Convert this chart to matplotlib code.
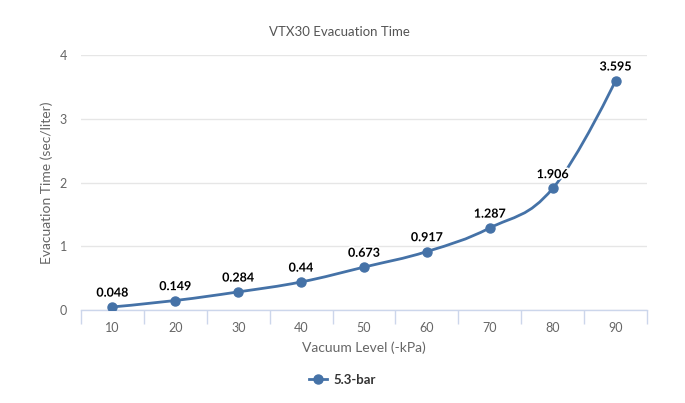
import matplotlib
matplotlib.use("Agg")
import matplotlib.pyplot as plt
from matplotlib.path import Path
from matplotlib.patches import PathPatch
import matplotlib.patheffects as pe
from matplotlib.lines import Line2D

categories = ["10", "20", "30", "40", "50", "60", "70", "80", "90"]
values = [0.048, 0.149, 0.284, 0.44, 0.673, 0.917, 1.287, 1.906, 3.595]
labels = ["0.048", "0.149", "0.284", "0.44", "0.673", "0.917", "1.287", "1.906", "3.595"]
series_name = "5.3-bar"
title = "VTX30 Evacuation Time"
xlabel = "Vacuum Level (-kPa)"
ylabel = "Evacuation Time (sec/liter)"
yticks = [0, 1, 2, 3, 4]

COLOR = "#4572A7"
FONT = "Lato"

fig = plt.figure(figsize=(6.85, 4.03), dpi=100)
ax = fig.add_axes([81/685, 93/403, (647-81)/685, (310-55)/403])

xs = list(range(len(values)))

# Highcharts-style spline control points
def spline_path(x, y):
    n = len(x)
    sm, den = 1.5, 2.5
    lc = [None]*n
    rc = [None]*n
    for i in range(n):
        if 0 < i < n-1:
            lx, ly = x[i-1], y[i-1]
            nx, ny = x[i+1], y[i+1]
            lcx = (sm*x[i] + lx)/den
            lcy = (sm*y[i] + ly)/den
            rcx = (sm*x[i] + nx)/den
            rcy = (sm*y[i] + ny)/den
            if rcx != lcx:
                corr = ((rcy - lcy)*(rcx - x[i]))/(rcx - lcx) + y[i] - rcy
                lcy += corr
                rcy += corr
            if lcy > ly and lcy > y[i]:
                lcy = max(ly, y[i]); rcy = 2*y[i] - lcy
            elif lcy < ly and lcy < y[i]:
                lcy = min(ly, y[i]); rcy = 2*y[i] - lcy
            if rcy > ny and rcy > y[i]:
                rcy = max(ny, y[i]); lcy = 2*y[i] - rcy
            elif rcy < ny and rcy < y[i]:
                rcy = min(ny, y[i]); lcy = 2*y[i] - rcy
            lc[i] = (lcx, lcy)
            rc[i] = (rcx, rcy)
        else:
            lc[i] = (x[i], y[i])
            rc[i] = (x[i], y[i])
    verts = [(x[0], y[0])]
    codes = [Path.MOVETO]
    for i in range(1, n):
        verts += [rc[i-1], lc[i], (x[i], y[i])]
        codes += [Path.CURVE4]*3
    return Path(verts, codes)

ax.add_patch(PathPatch(spline_path(xs, values), facecolor="none",
                       edgecolor=COLOR, lw=2, zorder=3))
ax.plot(xs, values, linestyle="none", marker="o", ms=6.5, color=COLOR,
        markeredgecolor=COLOR, zorder=4)

for xi, yi, lb in zip(xs, values, labels):
    ax.annotate(lb, (xi, yi), xytext=(0, 6), textcoords="offset points",
                ha="center", va="bottom", fontsize=9, fontweight="bold",
                color="black", family=FONT, zorder=5,
                path_effects=[pe.withStroke(linewidth=2.5, foreground="white")])

ax.set_xlim(-0.5, len(values) - 0.5)
ax.set_ylim(0, 4)
ax.set_yticks(yticks)
ax.set_yticklabels([str(t) for t in yticks])
ax.set_xticks(xs)
ax.set_xticklabels(categories)
ax.set_xticks([i - 0.5 for i in range(len(values) + 1)], minor=True)

ax.grid(axis="y", color="#e6e6e6", lw=1)
ax.set_axisbelow(True)
for s in ["top", "right", "left"]:
    ax.spines[s].set_visible(False)
ax.spines["bottom"].set_color("#ccd6eb")
ax.spines["bottom"].set_linewidth(1)

ax.tick_params(axis="x", which="major", length=0, pad=9, labelsize=9,
               labelcolor="#666666")
ax.tick_params(axis="x", which="minor", length=10, color="#ccd6eb", width=1)
ax.tick_params(axis="y", length=0, pad=10, labelsize=9, labelcolor="#666666")
for t in ax.get_xticklabels() + ax.get_yticklabels():
    t.set_family(FONT)

ax.set_xlabel(xlabel, fontsize=10, color="#666666", family=FONT, labelpad=5)
ax.set_ylabel(ylabel, fontsize=10, color="#666666", family=FONT, labelpad=5)

fig.text(339/685, 1 - 32/403, title, ha="center", va="center",
         fontsize=9.5, color="#555555", family=FONT)

handle = Line2D([], [], color=COLOR, lw=2, marker="o", ms=6.5)
fig.legend([handle], [series_name], loc="center", bbox_to_anchor=(0.5, 1 - 380/403),
           frameon=False, prop={"family": FONT, "weight": "bold", "size": 9.5},
           labelcolor="#333333", handlelength=1.4, handletextpad=0.5)

fig.savefig("out.png", dpi=100)
